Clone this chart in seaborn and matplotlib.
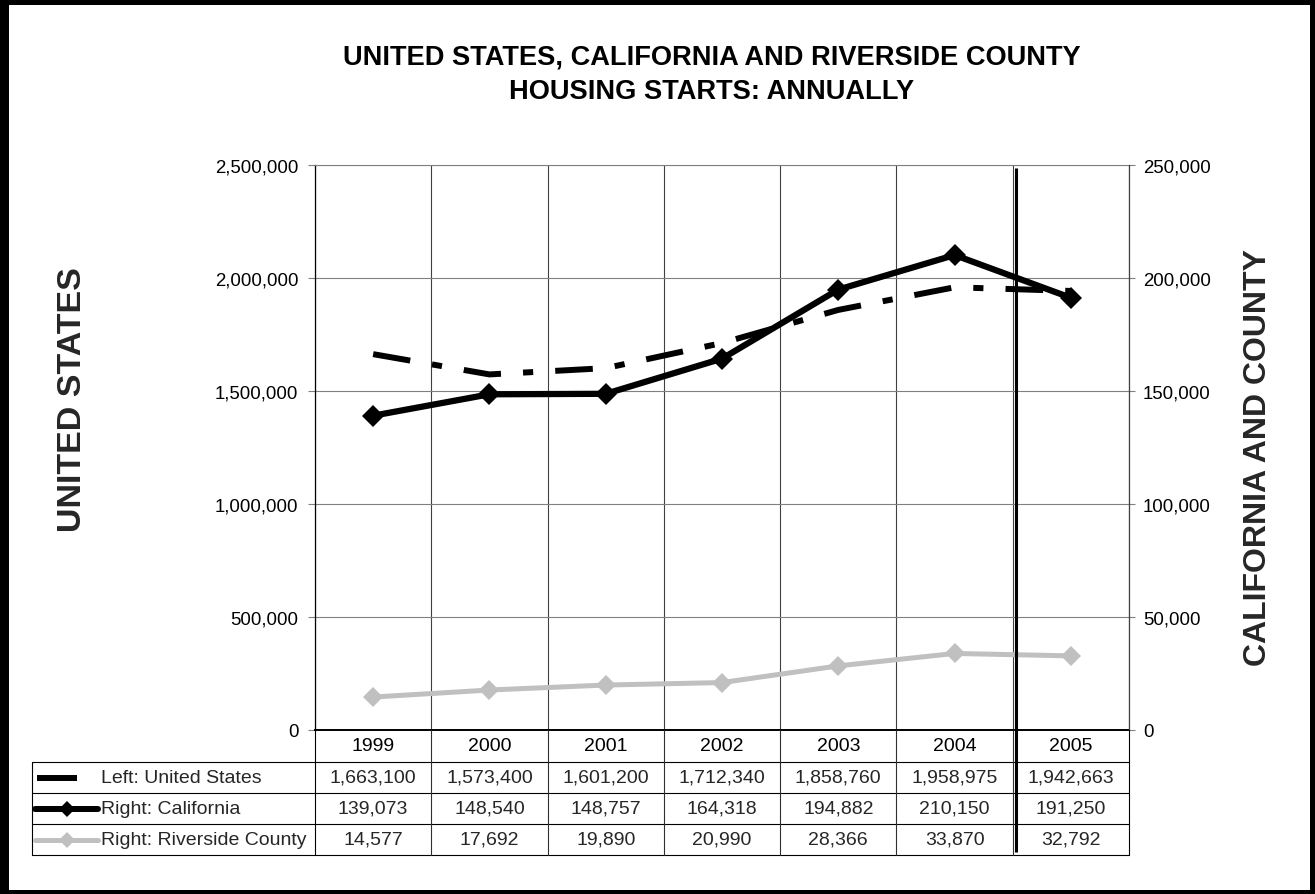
import numpy as np
import pandas as pd
import matplotlib
matplotlib.use("Agg")
import matplotlib.pyplot as plt
from matplotlib.ticker import FuncFormatter, MultipleLocator
import seaborn as sns

# Annual housing starts
years = ["1999", "2000", "2001", "2002", "2003", "2004", "2005"]
us_starts = [1663100, 1573400, 1601200, 1712340, 1858760, 1958975, 1942663]
ca_starts = [139073, 148540, 148757, 164318, 194882, 210150, 191250]
riv_starts = [14577, 17692, 19890, 20990, 28366, 33870, 32792]
series_labels = ["Left: United States", "Right: California", "Right: Riverside County"]

title_lines = ["UNITED STATES, CALIFORNIA AND RIVERSIDE COUNTY",
               "HOUSING STARTS: ANNUALLY"]
left_label = "UNITED STATES"
right_label = "CALIFORNIA AND COUNTY"

sns.set_style("white")
plt.rcParams["font.family"] = ["Liberation Sans", "DejaVu Sans"]

W, H = 1315, 895
fig = plt.figure(figsize=(W / 100, H / 100), dpi=100)
fig.patch.set_facecolor("white")


def px_box(x0, y0, x1, y1):
    return [x0 / W, 1 - y1 / H, (x1 - x0) / W, (y1 - y0) / H]


L, R, T, B = 315, 1129, 166, 731
n = len(years)
col_w = (R - L) / n

ax = fig.add_axes(px_box(L, T, R, B))
ax2 = ax.twinx()

df = pd.DataFrame({
    "pos": np.arange(n),
    "year": years,
    "us": us_starts,
    "ca": ca_starts,
    "riv": riv_starts,
})

BLACK = "black"
GRAY = "#c0c0c0"
US_DASH = (6.3, 3.7, 1.7, 3.7)
FS = 14

# United States on the left axis (dash-dot)
sns.lineplot(data=df, x="pos", y="us", ax=ax, color=BLACK, lw=4.3)
us_line = ax.lines[-1]
us_line.set_dashes(US_DASH)
us_line.set_dash_capstyle("butt")

# California and Riverside County on the right axis
sns.lineplot(data=df, x="pos", y="riv", ax=ax2, color=GRAY, lw=3.6,
             marker="D", markersize=10.5, markeredgewidth=0)
sns.lineplot(data=df, x="pos", y="ca", ax=ax2, color=BLACK, lw=4.5,
             marker="D", markersize=11, markeredgewidth=0)

comma = FuncFormatter(lambda v, _: f"{int(round(v)):,}")

ax.set_xlim(-0.5, n - 0.5)
ax.set_ylim(0, 2_500_000)
ax2.set_ylim(0, 250_000)
ax.yaxis.set_major_locator(MultipleLocator(500_000))
ax2.yaxis.set_major_locator(MultipleLocator(50_000))
ax.yaxis.set_major_formatter(comma)
ax2.yaxis.set_major_formatter(comma)

ax.set_xticks(np.arange(n), years)
ax.set_xticks(np.arange(-0.5, n, 1), minor=True)
ax.tick_params(axis="x", which="both", length=0, pad=5, labelsize=FS, colors="black")
ax.tick_params(axis="y", length=5, width=0.8, color="#808080", pad=7,
               labelsize=13.4, labelcolor="black")
ax2.tick_params(axis="y", length=4.5, width=0.8, color="#808080", pad=5.5,
                labelsize=13.4, labelcolor="black")

ax.grid(axis="y", which="major", color="#808080", lw=0.8)
ax.grid(axis="x", which="major", visible=False)
ax.grid(axis="x", which="minor", color="#404040", lw=0.8)
ax.set_axisbelow(True)

for a in (ax, ax2):
    a.set_xlabel("")
    a.set_ylabel("")
ax2.patch.set_visible(False)

ax.spines["left"].set_color(BLACK)
ax.spines["left"].set_linewidth(0.9)
ax.spines["bottom"].set_color(BLACK)
ax.spines["bottom"].set_linewidth(1.4)
ax.spines["top"].set_color("#808080")
ax.spines["top"].set_linewidth(0.8)
ax.spines["right"].set_visible(False)
for s in ("left", "top", "bottom"):
    ax2.spines[s].set_visible(False)
ax2.spines["right"].set_color("#404040")
ax2.spines["right"].set_linewidth(0.9)

# Titles and axis captions
fig.text(712 / W, 1 - 57.5 / H, title_lines[0], ha="center", va="center",
         fontsize=19.6, fontweight="bold", color="black")
fig.text(712 / W, 1 - 92 / H, title_lines[1], ha="center", va="center",
         fontsize=19.6, fontweight="bold", color="black")
fig.text(72.5 / W, 1 - 400 / H, left_label, rotation=90, ha="center", va="center",
         fontsize=24.5, fontweight="bold")
fig.text(1257.5 / W, 1 - 457.5 / H, right_label, rotation=90, ha="center", va="center",
         fontsize=23, fontweight="bold")

# Data table under the plot, drawn in pixel coordinates
tab = fig.add_axes([0, 0, 1, 1], zorder=5)
tab.set_xlim(0, W)
tab.set_ylim(H, 0)
tab.axis("off")
tab.patch.set_visible(False)

row_edges = [763, 794, 825, 856]
tab_left = 32
for y in row_edges:
    tab.plot([tab_left, R], [y, y], color=BLACK, lw=0.8)
tab.plot([tab_left, tab_left], [row_edges[0], row_edges[-1]], color=BLACK, lw=0.8)
for k in range(n + 1):
    x = L + k * col_w
    tab.plot([x, x], [B, row_edges[-1]], color=BLACK if k in (0, n) else "#303030", lw=0.8)

rows = [us_starts, ca_starts, riv_starts]
for r, vals in enumerate(rows):
    cy = (row_edges[r] + row_edges[r + 1]) / 2
    for i, v in enumerate(vals):
        cx = L + (i + 0.5) * col_w
        tab.text(cx, cy, f"{v:,}", ha="center", va="center", fontsize=FS)
    tab.text(101, cy + 0.5, series_labels[r], ha="left", va="center", fontsize=FS)

# Legend keys in the first column
cy0 = (row_edges[0] + row_edges[1]) / 2
tab.plot([37, 77], [cy0, cy0], color=BLACK, lw=4.3, solid_capstyle="butt")
cy1 = (row_edges[1] + row_edges[2]) / 2
tab.plot([35, 98], [cy1, cy1], color=BLACK, lw=4.3, solid_capstyle="round")
tab.plot([67], [cy1], color=BLACK, marker="D", markersize=8, markeredgewidth=0)
cy2 = (row_edges[2] + row_edges[3]) / 2
tab.plot([35, 98], [cy2, cy2], color=GRAY, lw=3.6, solid_capstyle="round")
tab.plot([67], [cy2], color=GRAY, marker="D", markersize=8, markeredgewidth=0)

# Separator before the 2005 column
sep_x = L + (n - 1) * col_w + 3
tab.plot([sep_x, sep_x], [169, 853], color=BLACK, lw=2.2, solid_capstyle="butt")

# Outer frame
tab.plot([4.5, 4.5], [0, H], color=BLACK, lw=9 * 0.72, solid_capstyle="butt")
tab.plot([0, W], [2.5, 2.5], color=BLACK, lw=5 * 0.72, solid_capstyle="butt")
tab.plot([W - 2.5, W - 2.5], [0, H], color=BLACK, lw=5 * 0.72, solid_capstyle="butt")
tab.plot([0, W], [H - 2, H - 2], color=BLACK, lw=4 * 0.72, solid_capstyle="butt")

fig.savefig("out.png", dpi=100)
